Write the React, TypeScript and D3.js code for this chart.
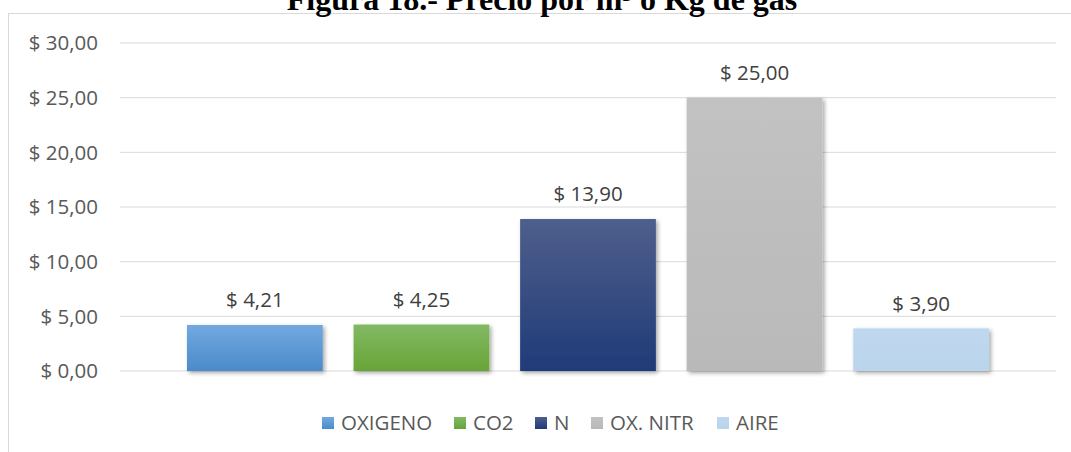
import React from "react";
import * as d3 from "d3";

const categories = ["OXIGENO", "CO2", "N", "OX. NITR", "AIRE"];
const values = [4.21, 4.25, 13.9, 25.0, 3.9];
const yTicks = [0, 5, 10, 15, 20, 25, 30];
const colorsTop = ["#72a9df", "#82b964", "#4f5f8b", "#c2c2c2", "#bfd8ef"];
const colorsBottom = ["#4a8bcb", "#68a436", "#1f3b78", "#b9b9b9", "#bad4ec"];

const W = 1071;
const H = 452;

const fmt = (v: number) => "$ " + v.toFixed(2).replace(".", ",");

export default function App() {
  const y = d3.scaleLinear().domain([0, 30]).range([371, 43]);
  const x = d3.scaleBand<string>().domain(categories).range([172, 1004]).paddingInner(0.185).paddingOuter(0.09);
  const font = "'Open Sans', sans-serif";
  const fs = 20.5;
  const legendX = [322, 454, 535, 591, 717];
  return (
    <svg width={W} height={H} style={{ position: "absolute", left: 0, top: 0, background: "#fff" }}>
      <defs>
        {categories.map((c, i) => (
          <linearGradient key={c} id={"g" + i} x1="0" y1="0" x2="0" y2="1">
            <stop offset="0" stopColor={colorsTop[i]} />
            <stop offset="1" stopColor={colorsBottom[i]} />
          </linearGradient>
        ))}
        <filter id="sh" x="-10%" y="-10%" width="130%" height="130%">
          <feDropShadow dx="2" dy="2" stdDeviation="2" floodColor="#000" floodOpacity="0.35" />
        </filter>
      </defs>
      <rect x={8.5} y={13.5} width={1070} height={460} fill="#fff" stroke="#d9d9d9" strokeWidth={1} />
      <text x={542} y={10} textAnchor="middle" fontFamily="'Liberation Serif', 'Times New Roman', serif" fontWeight="bold" fontSize={32} fill="#000">
        Figura 18.- Precio por m³ o Kg de gas
      </text>
      {yTicks.map((t) => (
        <g key={t}>
          <line x1={120} x2={1056} y1={y(t)} y2={y(t)} stroke="#d9d9d9" strokeWidth={1} />
          <text x={98} y={y(t)} dy="0.35em" textAnchor="end" fontFamily={font} fontSize={fs} fill="#595959">
            {fmt(t)}
          </text>
        </g>
      ))}
      {categories.map((c, i) => (
        <g key={c}>
          <rect
            x={x(c)}
            y={y(values[i])}
            width={x.bandwidth()}
            height={y(0) - y(values[i])}
            fill={`url(#g${i})`}
            filter="url(#sh)"
          />
          <text x={(x(c) as number) + x.bandwidth() / 2} y={y(values[i]) - 25} dy="0.35em" textAnchor="middle" fontFamily={font} fontSize={fs} fill="#404040">
            {fmt(values[i])}
          </text>
        </g>
      ))}
      {categories.map((c, i) => (
        <g key={"l" + c}>
          <rect x={legendX[i]} y={417} width={12} height={12} fill={`url(#g${i})`} />
          <text x={legendX[i] + 19} y={423} dy="0.35em" fontFamily={font} fontSize={fs} fill="#595959">
            {c}
          </text>
        </g>
      ))}
    </svg>
  );
}
